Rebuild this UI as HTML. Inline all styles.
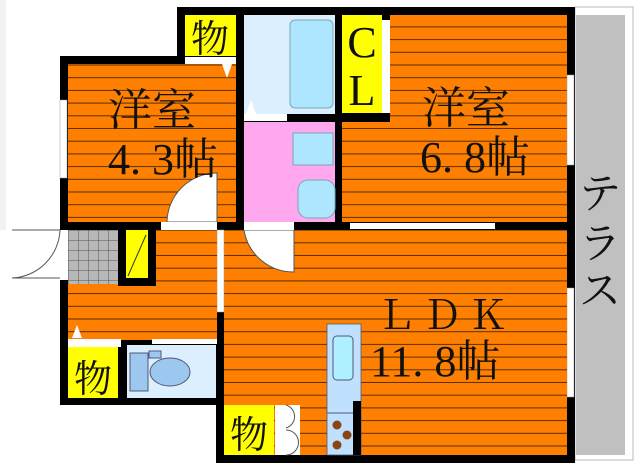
<!DOCTYPE html>
<html><head><meta charset="utf-8"><style>
html,body{margin:0;padding:0;background:#fff}
svg{display:block}
text{font-family:"Liberation Serif","Noto Serif CJK SC",serif;fill:#111}
</style></head><body>
<svg width="640" height="466" viewBox="0 0 640 466" xmlns="http://www.w3.org/2000/svg">
<defs>
<pattern id="fl" width="10" height="12.7" patternUnits="userSpaceOnUse" y="2">
<rect width="10" height="12.7" fill="#ff7f00"/>
<rect y="11.7" width="10" height="1" fill="#5a3000"/>
</pattern>
<pattern id="tile" width="10" height="10" patternUnits="userSpaceOnUse" x="68" y="230">
<rect width="10" height="10" fill="#b8b8b8"/>
<path d="M0 0H10M0 0V10" stroke="#555" stroke-width="1"/>
</pattern>
</defs>
<rect x="0" y="0" width="6" height="466" fill="#f2f2f2"/>
<rect x="575" y="7" width="58" height="453" fill="#fff" stroke="#bbb"/>
<rect x="576" y="15" width="49" height="440" fill="#c0c0c0"/>
<rect x="177" y="7" width="398" height="223" fill="#000"/>
<rect x="60" y="56" width="184" height="174" fill="#000"/>
<rect x="60" y="222" width="515" height="241" fill="#000"/>
<rect x="0" y="405" width="216" height="61" fill="#fff"/>
<rect x="0" y="230" width="60" height="175" fill="#fff"/>
<rect x="68" y="64" width="168" height="158" fill="url(#fl)"/>
<rect x="185" y="15" width="51" height="41" fill="#ffff00"/>
<rect x="185" y="57" width="51" height="7" fill="#fff"/>
<rect x="244" y="15" width="91" height="99" fill="#dcefff"/>
<rect x="290" y="20" width="43" height="88" rx="5" fill="#aee6ff" stroke="#7aa"/>
<rect x="244" y="114" width="43" height="7" fill="#fff"/>
<rect x="244" y="122" width="91" height="100" fill="#ffa8f0"/>
<rect x="293" y="133" width="40" height="32" fill="#aee6ff" stroke="#7aa"/>
<rect x="298" y="180" width="37" height="38" rx="10" fill="#aee6ff" stroke="#7aa"/>
<rect x="342" y="15" width="40" height="98" fill="#ffff00"/>
<rect x="382" y="20" width="8" height="93" fill="#fff"/>
<path d="M390 23l12 5l-12 5zM390 100l12 5l-12 5z" fill="#fff"/>
<rect x="390" y="15" width="177" height="207" fill="url(#fl)"/>
<rect x="342" y="122" width="48" height="100" fill="url(#fl)"/>
<rect x="350" y="223" width="145" height="6" fill="#fff"/>
<rect x="567" y="75" width="7" height="90" fill="#fff" stroke="#999" stroke-width=".5"/>
<rect x="567" y="288" width="7" height="109" fill="#fff" stroke="#999" stroke-width=".5"/>
<rect x="224" y="230" width="343" height="225" fill="url(#fl)"/>
<rect x="217" y="230" width="7" height="82" fill="#fff" stroke="#999" stroke-width=".5"/>
<rect x="68" y="230" width="149" height="110" fill="url(#fl)"/>
<rect x="68" y="230" width="50" height="54" fill="url(#tile)"/>
<rect x="118" y="230" width="38" height="56" fill="#000"/>
<rect x="126" y="230" width="22" height="48" fill="#ffff00"/>
<line x1="128" y1="276" x2="146" y2="235" stroke="#333"/>
<rect x="60" y="230" width="8" height="50" fill="#fff"/>
<path d="M60 230 A50 50 0 0 1 12 278 L60 278" fill="#fff" stroke="#555"/>
<line x1="12" y1="230" x2="60" y2="230" stroke="#555"/>
<rect x="68" y="339" width="53" height="8" fill="#fff"/>
<rect x="152" y="339" width="65" height="5" fill="#fff"/>
<path d="M72 338l5-13l5 13z" fill="#fff"/>
<rect x="68" y="347" width="50" height="51" fill="#ffff00"/>
<rect x="127" y="345" width="89" height="53" fill="#dcefff"/>
<rect x="130" y="353" width="18" height="38" fill="#9cc8f0" stroke="#557"/>
<ellipse cx="170" cy="372" rx="20" ry="14" fill="#9cc8f0" stroke="#557"/>
<rect x="149" y="351" width="12" height="7" fill="#9cc8f0" stroke="#557"/>
<rect x="224" y="405" width="50" height="50" fill="#ffff00"/>
<rect x="275" y="405" width="25" height="50" fill="#fff"/>
<path d="M286 405 A12 12 0 0 1 286 428 M286 430 A12 12 0 0 1 286 455" fill="none" stroke="#555"/>
<rect x="327" y="324" width="34" height="131" fill="#bfe0ff" stroke="#557" stroke-width=".8"/>
<rect x="333" y="336" width="20" height="44" rx="4" fill="#aef0ff" stroke="#557"/>
<rect x="353" y="401" width="8" height="54" fill="#000"/>
<line x1="327" y1="413" x2="353" y2="413" stroke="#557"/>
<circle cx="337" cy="425" r="4.5" fill="#8b4513"/><circle cx="347" cy="435" r="4.5" fill="#8b4513"/><circle cx="337" cy="445" r="4.5" fill="#8b4513"/>
<path d="M217 173 A50 50 0 0 0 167 222 L217 222 Z" fill="#fff" stroke="#555"/>
<path d="M244 230 A50 50 0 0 0 294 272 L294 230 Z" fill="#fff" stroke="#555"/>
<rect x="161" y="222" width="56" height="8" fill="#fff"/>
<rect x="244" y="222" width="50" height="8" fill="#fff"/>
<path d="M222 64l5 14l5-14z" fill="#fff"/>
<path d="M246 114l5-14l5 14z" fill="#fff"/>
<rect x="60" y="100" width="7" height="78" fill="#fff" stroke="#999" stroke-width=".5"/>
<text x="152" y="125" font-size="44" text-anchor="middle">洋室</text>
<text x="108" y="174" font-size="44">4. 3帖</text>
<text x="466" y="123" font-size="44" text-anchor="middle">洋室</text>
<text x="420" y="172" font-size="44">6. 8帖</text>
<text x="376" y="329" font-size="40" letter-spacing="6">ＬＤＫ</text>
<text x="370" y="376" font-size="44">11. 8帖</text>
<text x="210" y="52" font-size="38" text-anchor="middle">物</text>
<text x="93" y="392" font-size="38" text-anchor="middle">物</text>
<text x="249" y="448" font-size="38" text-anchor="middle">物</text>
<text x="362" y="57" font-size="44" text-anchor="middle">C</text>
<text x="362" y="105" font-size="44" text-anchor="middle">L</text>
<text x="600" y="208" font-size="42" text-anchor="middle">テ</text>
<text x="600" y="258" font-size="42" text-anchor="middle">ラ</text>
<text x="600" y="305" font-size="42" text-anchor="middle">ス</text>
</svg>
</body></html>
